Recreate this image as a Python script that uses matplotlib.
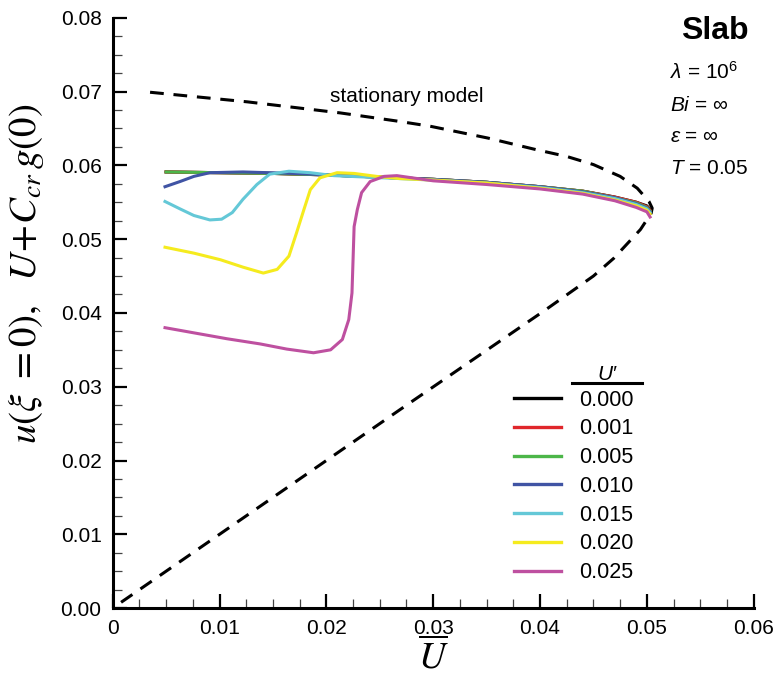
import numpy as np
import matplotlib
matplotlib.use("Agg")
import matplotlib.pyplot as plt
from matplotlib.ticker import MultipleLocator, FixedLocator
from matplotlib.lines import Line2D

plt.rcParams['font.family'] = ['Liberation Sans', 'DejaVu Sans']
plt.rcParams['mathtext.fontset'] = 'custom'
plt.rcParams['mathtext.rm'] = 'Liberation Sans'
plt.rcParams['mathtext.it'] = 'Liberation Sans:italic'

# stationary model (upper branch -> tip -> lower branch)
stat_x = [0.0035, 0.0126, 0.0213, 0.0266, 0.0297, 0.0351, 0.0397, 0.0425, 0.0450,
          0.0475, 0.0491, 0.0502, 0.0505, 0.0504, 0.0494, 0.0469, 0.0450, 0.0405,
          0.0269, 0.0151, 0.0]
stat_y = [0.0699, 0.0686, 0.0671, 0.0660, 0.0653, 0.0637, 0.0621, 0.0612, 0.0601,
          0.0585, 0.0569, 0.0551, 0.0542, 0.0535, 0.0513, 0.0474, 0.0450, 0.0404,
          0.0269, 0.0151, 0.0]

# common trunk abscissa after the transients
trunk_x = [0.030, 0.035, 0.040, 0.044, 0.047, 0.049, 0.050, 0.0503]

u_labels = ['0.000', '0.001', '0.005', '0.010', '0.015', '0.020', '0.025']
colors = ['#000000', '#e0262b', '#4cb649', '#4054a4', '#64c8d7', '#f5eb1e', '#be50a0']

x000 = [0.005, 0.010, 0.015, 0.020, 0.025] + trunk_x
y000 = [0.0591, 0.0590, 0.0589, 0.0587, 0.0584, 0.0581, 0.0577, 0.0571, 0.0565, 0.0557, 0.0550, 0.0545, 0.0540]
x001 = x000
y001 = [0.0591, 0.0590, 0.0589, 0.0587, 0.0584, 0.0581, 0.0577, 0.0571, 0.0565, 0.0557, 0.0550, 0.0544, 0.0539]
x005 = x000
y005 = [0.0591, 0.0590, 0.0589, 0.0587, 0.0584, 0.0581, 0.0577, 0.0571, 0.0565, 0.0556, 0.0549, 0.0543, 0.0538]
x010 = [0.0049, 0.0063, 0.0076, 0.0091, 0.0122, 0.0169, 0.0201, 0.025] + trunk_x
y010 = [0.0571, 0.0578, 0.0585, 0.0590, 0.0591, 0.0589, 0.0587, 0.0584,
        0.0581, 0.0577, 0.0571, 0.0564, 0.0556, 0.0548, 0.0542, 0.0537]
x015 = [0.0049, 0.0063, 0.0076, 0.0091, 0.0102, 0.0112, 0.0122, 0.0135, 0.0147, 0.0165,
        0.0185, 0.0207, 0.0238] + trunk_x
y015 = [0.0551, 0.0541, 0.0532, 0.0526, 0.0527, 0.0536, 0.0554, 0.0574, 0.0588, 0.0592,
        0.0590, 0.0586, 0.0584,
        0.0580, 0.0576, 0.0570, 0.0563, 0.0555, 0.0547, 0.0541, 0.0536]
x020 = [0.0049, 0.0076, 0.0101, 0.0122, 0.0141, 0.0154, 0.0165, 0.0172, 0.0179, 0.0185,
        0.0194, 0.0210, 0.0226, 0.0247, 0.0269] + trunk_x
y020 = [0.0489, 0.0481, 0.0472, 0.0462, 0.0454, 0.0459, 0.0477, 0.0508, 0.0540, 0.0567,
        0.0583, 0.0590, 0.0589, 0.0585, 0.0582,
        0.0580, 0.0576, 0.0569, 0.0562, 0.0553, 0.0545, 0.0539, 0.0534]
x025 = [0.0049, 0.0076, 0.0107, 0.0138, 0.0163, 0.0188, 0.0204, 0.0215, 0.0221, 0.0224,
        0.0225, 0.0226, 0.0229, 0.0233, 0.0241, 0.0254, 0.0266] + trunk_x
y025 = [0.0380, 0.0373, 0.0365, 0.0358, 0.0351, 0.0346, 0.0350, 0.0364, 0.0391, 0.0427,
        0.0472, 0.0517, 0.0540, 0.0563, 0.0578, 0.0585, 0.0586,
        0.0579, 0.0574, 0.0568, 0.0561, 0.0552, 0.0543, 0.0537, 0.0530]

series_x = [x000, x001, x005, x010, x015, x020, x025]
series_y = [y000, y001, y005, y010, y015, y020, y025]

fig = plt.figure(figsize=(7.77, 6.81), dpi=100)
ax = fig.add_axes([0.145, 0.107, 0.825, 0.867])

ax.plot(stat_x, stat_y, color='black', lw=2.2, linestyle=(0, (4.5, 3.2)))

handles = []
for xs, ys, c, lab in zip(series_x, series_y, colors, u_labels):
    h, = ax.plot(xs, ys, color=c, lw=2.2, label=lab, solid_joinstyle='round')
    handles.append(h)

ax.set_xlim(0, 0.06)
ax.set_ylim(0, 0.08)
ax.xaxis.set_major_locator(FixedLocator([0, 0.01, 0.02, 0.03, 0.04, 0.05, 0.06]))
ax.set_xticklabels(['0', '0.01', '0.02', '0.03', '0.04', '0.05', '0.06'])
ax.yaxis.set_major_locator(FixedLocator([0, 0.01, 0.02, 0.03, 0.04, 0.05, 0.06, 0.07, 0.08]))
ax.set_yticklabels(['0.00', '0.01', '0.02', '0.03', '0.04', '0.05', '0.06', '0.07', '0.08'])
ax.xaxis.set_minor_locator(MultipleLocator(0.0025))
ax.yaxis.set_minor_locator(MultipleLocator(0.0025))
ax.tick_params(which='major', direction='in', length=10, width=1.6, labelsize=15, pad=8)
ax.tick_params(which='minor', direction='in', length=6.5, width=0.9, color='#444444')
ax.spines['top'].set_visible(False)
ax.spines['right'].set_visible(False)
for s in ('left', 'bottom'):
    ax.spines[s].set_linewidth(2.2)

ax.set_xlabel(r'$\overline{U}$', fontsize=27, labelpad=0, math_fontfamily='stix')
ax.set_ylabel(r'$u(\xi\ =0),\ \ U\!+\!C_{cr}\,g(0)$', fontsize=28, math_fontfamily='stix')
ax.yaxis.set_label_coords(-0.104, 0.566)

ax.text(0.0275, 0.0693, 'stationary model', fontsize=15, ha='center', va='center')

# annotation block on the right
fig.text(0.963, 0.955, 'Slab', fontsize=23, fontweight='bold', ha='right', va='center')
fig.text(0.862, 0.895, r'$\lambda$ = 10$^6$', fontsize=15, ha='left', va='center')
fig.text(0.862, 0.845, r'$Bi$ = $\infty$', fontsize=15, ha='left', va='center')
fig.text(0.862, 0.800, r'$\varepsilon$ = $\infty$', fontsize=15, ha='left', va='center')
fig.text(0.862, 0.753, r'$T$ = 0.05', fontsize=15, ha='left', va='center')

leg = ax.legend(handles=handles, loc='upper left', bbox_to_anchor=(0.626, 0.370),
                frameon=False, fontsize=15.5, handlelength=2.2, handletextpad=0.85,
                labelspacing=0.36, borderpad=0, borderaxespad=0)
for ln in leg.get_lines():
    ln.set_linewidth(2.4)

# legend title with underline
fig.text(607 / 777, 1 - 374 / 681, "U\u2032", fontsize=15, style='italic', ha='center', va='center')
fig.add_artist(Line2D([572 / 777, 642 / 777], [1 - 383 / 681, 1 - 383 / 681],
                      transform=fig.transFigure, color='black', lw=2.2))

fig.savefig('out.png', dpi=100)
